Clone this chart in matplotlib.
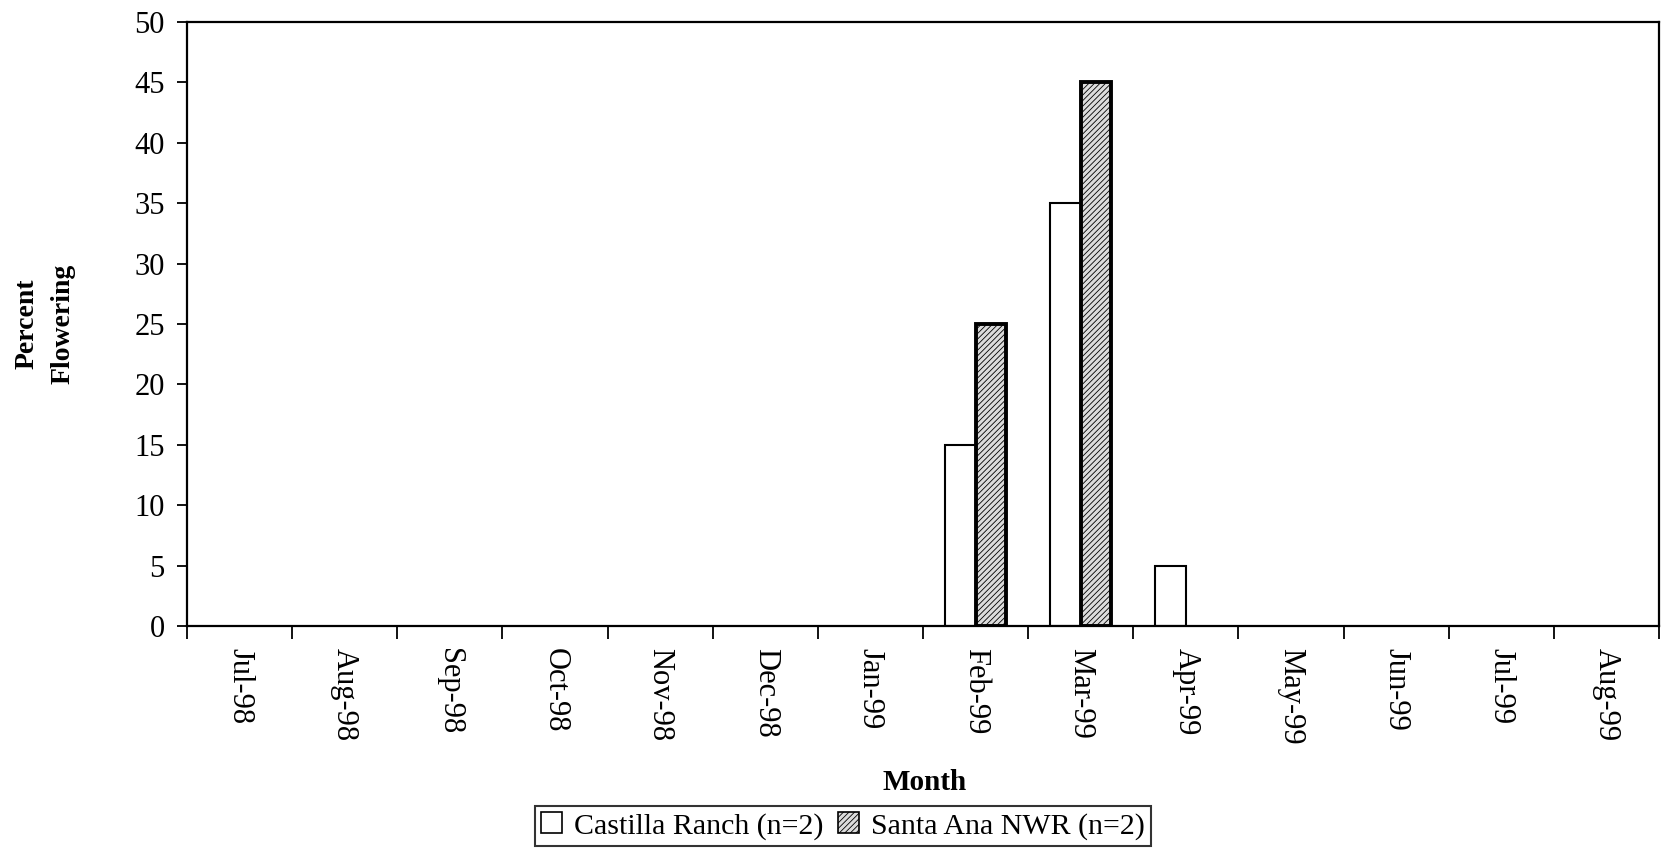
import matplotlib
matplotlib.use("Agg")
import matplotlib.pyplot as plt
from matplotlib.patches import Patch
import numpy as np

# porcentaje de plantas en flor por mes y sitio
meses = ["Jul-98", "Aug-98", "Sep-98", "Oct-98", "Nov-98", "Dec-98", "Jan-99",
         "Feb-99", "Mar-99", "Apr-99", "May-99", "Jun-99", "Jul-99", "Aug-99"]
castilla = [0, 0, 0, 0, 0, 0, 0, 15, 35, 5, 0, 0, 0, 0]
santa_ana = [0, 0, 0, 0, 0, 0, 0, 25, 45, 0, 0, 0, 0, 0]
yticks = [0, 5, 10, 15, 20, 25, 30, 35, 40, 45, 50]

plt.rcParams['font.family'] = ['Liberation Serif', 'DejaVu Serif']
plt.rcParams['hatch.linewidth'] = 0.6

fig = plt.figure(figsize=(16.72, 8.52), dpi=100)
ax = fig.add_axes([0.1118, 0.2653, 0.8804, 0.7089])

x = np.arange(len(meses))
w = 0.29
c_vals = np.array(castilla)
s_vals = np.array(santa_ana)
# solo se dibujan las barras con valor (las de cero no se ven)
mc = c_vals > 0
ms = s_vals > 0
ax.bar(x[mc] - w/2, c_vals[mc], w, facecolor='white', edgecolor='black', linewidth=1.5)
ax.bar(x[ms] + w/2, s_vals[ms], w, facecolor='#dcdcdc', edgecolor='black',
       linewidth=2.8, hatch='//////')

ax.set_xlim(-0.5, len(meses) - 0.5)
ax.set_ylim(0, 50)
ax.set_yticks(yticks)
ax.set_xticks(x)
ax.set_xticklabels(meses, rotation=270, fontsize=22)
ax.set_xticks(np.arange(-0.5, len(meses), 1), minor=True)
ax.tick_params(axis='x', which='major', length=0, pad=16)
ax.tick_params(axis='x', which='minor', length=9, width=1.3, direction='out')
ax.tick_params(axis='y', length=7, width=1.3, direction='out', labelsize=22, pad=9)
for s in ax.spines.values():
    s.set_linewidth(1.6)

# etiquetas de ejes
fig.text(45/1672, 0.62, "Percent\nFlowering", rotation=90, ha='center', va='center',
         fontsize=20, fontweight='bold', multialignment='center', linespacing=1.6)
fig.text(925/1672, 1 - 782/852, "Month", ha='center', va='center',
         fontsize=21, fontweight='bold')

h1 = Patch(facecolor='white', edgecolor='black', linewidth=1.2)
h2 = Patch(facecolor='#dcdcdc', edgecolor='black', linewidth=1.2, hatch='//////')
leg = fig.legend([h1, h2], ["Castilla Ranch (n=2)", "Santa Ana NWR (n=2)"],
                 loc='center', bbox_to_anchor=(843/1672, 1 - 826/852), ncol=2,
                 fontsize=21.5, frameon=True, fancybox=False, handlelength=0.7,
                 handleheight=0.7, handletextpad=0.4, columnspacing=0.5,
                 borderpad=0.2, borderaxespad=0)
leg.get_frame().set_edgecolor('black')
leg.get_frame().set_linewidth(1.5)

fig.savefig("out.png", dpi=100)
